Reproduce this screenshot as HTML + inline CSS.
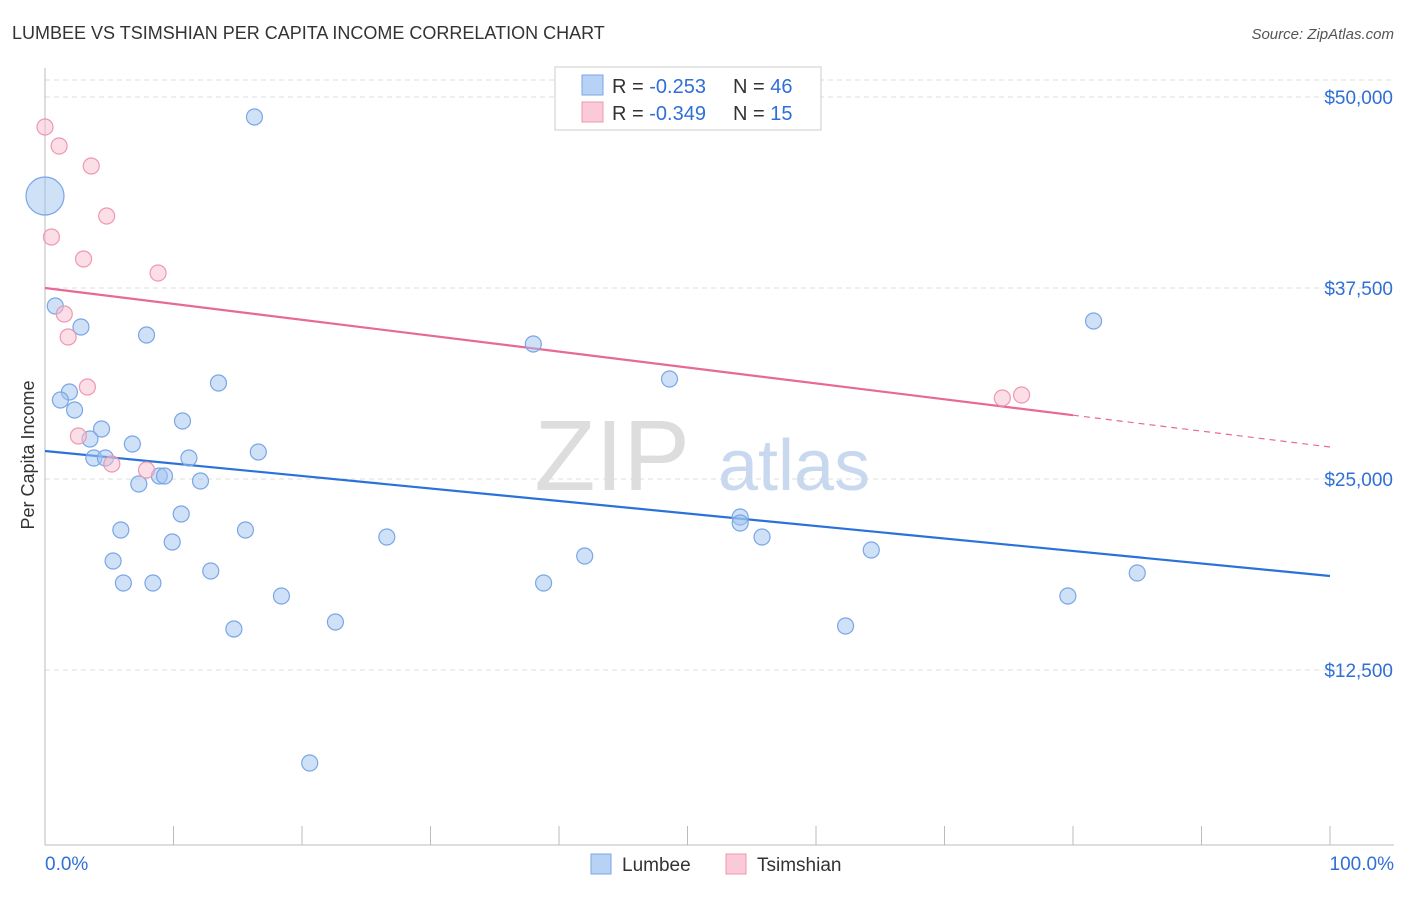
<!DOCTYPE html>
<html><head><meta charset="utf-8"><style>
body{margin:0;background:#fff;font-family:"Liberation Sans",sans-serif;}
svg text{font-family:"Liberation Sans",sans-serif;}
</style></head><body>
<svg id="chart" width="1406" height="892">
<text x="12" y="39" font-size="18" fill="#333">LUMBEE VS TSIMSHIAN PER CAPITA INCOME CORRELATION CHART</text>
<text x="1394" y="39" font-size="15" fill="#555" font-style="italic" text-anchor="end">Source: ZipAtlas.com</text>
<g id="grid"></g>
<text x="690" y="490" font-size="100" fill="#ddd" text-anchor="end" font-family="Liberation Serif">ZIP</text>
<text x="718" y="490" font-size="72" fill="#c8d8ee">atlas</text>
<text x="34" y="455" font-size="18" fill="#333" text-anchor="middle" transform="rotate(-90 34 455)">Per Capita Income</text>
<g id="lines"></g>
<g id="points"></g>
<g>
<rect x="555" y="67" width="266" height="63" fill="#fff" stroke="#ccc"/>
<rect x="582" y="75" width="21" height="20" fill="#b8d2f5" stroke="#7aa6e6"/>
<rect x="582" y="102" width="21" height="20" fill="#fbc9d7" stroke="#ee98b2"/>
<text x="612" y="93" font-size="20" fill="#333">R = <tspan fill="#2f6fd6">-0.253</tspan><tspan x="733">N = </tspan><tspan fill="#2f6fd6">46</tspan></text>
<text x="612" y="120" font-size="20" fill="#333">R = <tspan fill="#2f6fd6">-0.349</tspan><tspan x="733">N = </tspan><tspan fill="#2f6fd6"> 15</tspan></text>
</g>
<g>
<rect x="591" y="854" width="20" height="20" fill="#b8d2f5" stroke="#7aa6e6"/>
<text x="622" y="871" font-size="19" fill="#333">Lumbee</text>
<rect x="726" y="854" width="20" height="20" fill="#fbc9d7" stroke="#ee98b2"/>
<text x="757" y="871" font-size="19" fill="#333">Tsimshian</text>
</g>
<text x="45" y="870" font-size="19" fill="#2f6fd6">0.0%</text>
<text x="1394" y="870" font-size="19" fill="#2f6fd6" text-anchor="end">100.0%</text>
</svg>
<script>
const yTicks=[12500,25000,37500,50000];
const yTickLabels=["$12,500","$25,000","$37,500","$50,000"];
const lumbeeX=[0,16.3,0.8,2.8,7.9,1.9,1.2,2.3,13.5,10.7,4.4,3.5,6.8,16.6,3.8,4.7,11.2,8.9,9.3,7.3,12.1,10.6,5.9,15.6,9.9,26.6,5.3,12.9,6.1,8.4,18.4,14.7,22.6,20.6,38.0,48.6,54.1,54.1,55.8,42.0,38.8,64.3,62.3,81.6,85.0,79.6];
const lumbeeY=[43524,48695,36325,34950,34427,30696,30172,29518,31285,28798,28274,27620,27293,26769,26376,26376,26376,25198,25198,24675,24871,22711,21664,21664,20879,21206,19635,18980,18195,18195,17344,15184,15643,6414,33838,31547,22515,22122,21206,19962,18195,20355,15381,35343,18850,17344];
const lumbeeSize=[19,8,8,8,8,8,8,8,8,8,8,8,8,8,8,8,8,8,8,8,8,8,8,8,8,8,8,8,8,8,8,8,8,8,8,8,8,8,8,8,8,8,8,8,8,8];
const tsimX=[0,1.1,3.6,4.8,0.5,3.0,8.8,1.5,1.8,3.3,2.6,5.2,7.9,74.5,76.0];
const tsimY=[48040,46797,45488,42215,40841,39401,38485,35801,34296,31023,27816,25984,25591,30303,30500];
const lumbeeTrend=[26835,18653];
const tsimTrend=[37503,27096];
const tsimSolidEnd=80;
const X=v=>45+v*12.85, Y=v=>861-v/65.45;
const NS="http://www.w3.org/2000/svg";
function mk(tag,attrs,parent){const e=document.createElementNS(NS,tag);for(const k in attrs)e.setAttribute(k,attrs[k]);document.getElementById(parent).appendChild(e);return e;}
yTicks.forEach((t,i)=>{
 const l=mk('line',{x1:45,x2:1394,y1:Y(t),y2:Y(t),stroke:'#ddd','stroke-dasharray':'5,4'},'grid');
 
 
 const tx=mk('text',{x:1393,y:Y(t)+7,'font-size':19,fill:'#2f6fd6','text-anchor':'end'},'grid');
 tx.textContent=yTickLabels[i];
 
 
});
const topGrid=mk('line',{x1:45,x2:1394,y1:80,y2:80,stroke:'#ddd','stroke-dasharray':'5,4'},'grid');


const ax=mk('line',{x1:45,x2:1394,y1:845,y2:845,stroke:'#bbb'},'grid');


const ay=mk('line',{x1:45,x2:45,y1:68,y2:845,stroke:'#bbb'},'grid');


for(let i=1;i<=10;i++){
 const tk=mk('line',{x1:X(i*10),x2:X(i*10),y1:826,y2:845,stroke:'#bbb'},'grid');
 
 
}
const ly=v=>lumbeeTrend[0]+(lumbeeTrend[1]-lumbeeTrend[0])*v/100;
const ty=v=>tsimTrend[0]+(tsimTrend[1]-tsimTrend[0])*v/100;
const bl=mk('line',{x1:X(0),y1:Y(ly(0)),x2:X(100),y2:Y(ly(100)),stroke:'#2a72d9','stroke-width':2.2},'lines');


const pl=mk('line',{x1:X(0),y1:Y(ty(0)),x2:X(tsimSolidEnd),y2:Y(ty(tsimSolidEnd)),stroke:'#e66a93','stroke-width':2.2},'lines');


const pd=mk('line',{x1:X(tsimSolidEnd),y1:Y(ty(tsimSolidEnd)),x2:X(100),y2:Y(ty(100)),stroke:'#e66a93','stroke-width':1.2,'stroke-dasharray':'6,5'},'lines');


lumbeeX.forEach((x,i)=>{
 const c=mk('circle',{cx:X(x),cy:Y(lumbeeY[i]),r:lumbeeSize[i],fill:'rgba(160,196,240,0.5)',stroke:'#7aa6e6','stroke-width':1.2},'points');
 
 
});
tsimX.forEach((x,i)=>{
 const c=mk('circle',{cx:X(x),cy:Y(tsimY[i]),r:8,fill:'rgba(250,190,208,0.5)',stroke:'#ee98b2','stroke-width':1.2},'points');
 
 
});
</script>
</body></html>
